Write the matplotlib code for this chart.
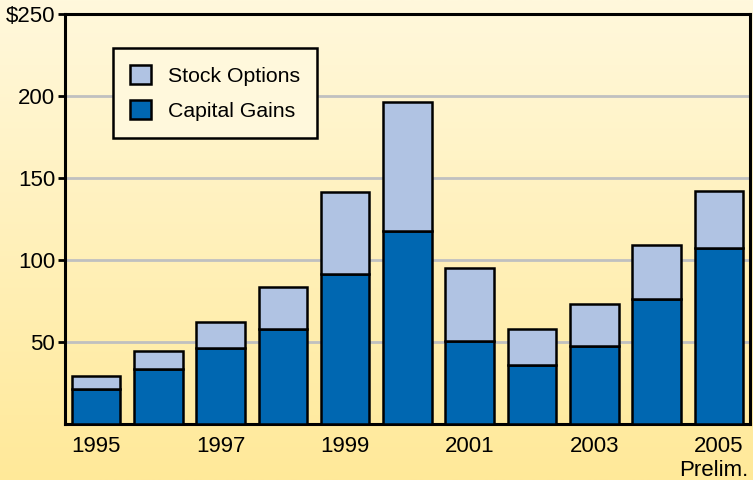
import numpy as np
import matplotlib
matplotlib.use("Agg")
import matplotlib.pyplot as plt
from matplotlib.colors import LinearSegmentedColormap

years = ["1995", "1996", "1997", "1998", "1999", "2000",
         "2001", "2002", "2003", "2004", "2005"]
total = [29.3, 44.5, 62.2, 83.5, 141.5, 196.3, 95.1, 57.9, 73.2, 109.2, 142.1]
capital_gains = [21.3, 33.5, 46.3, 57.9, 91.5, 117.7, 50.6, 36.0, 47.6, 76.2, 107.0]
stock_options = [t - c for t, c in zip(total, capital_gains)]

yticks = [50, 100, 150, 200, 250]
ytick_labels = ["50", "100", "150", "200", "$250"]
xtick_labels = ["1995", "", "1997", "", "1999", "", "2001", "", "2003", "", "2005"]

dark_blue = "#0067b1"
light_blue = "#b0c3e3"

plt.rcParams['font.family'] = ['Liberation Sans', 'DejaVu Sans']

fig = plt.figure(figsize=(7.53, 4.80), dpi=100)

# yellow gradient background
bg = fig.add_axes([0, 0, 1, 1], zorder=-10)
cmap = LinearSegmentedColormap.from_list("bg", ["#fff8dc", "#ffe999"])
grad = np.linspace(0, 1, 256).reshape(-1, 1)
bg.imshow(grad, aspect="auto", cmap=cmap, extent=[0, 1, 0, 1])
bg.axis("off")

ax = fig.add_axes([0.0863, 0.1167, 0.9097, 0.8543])
ax.patch.set_alpha(0)

x = np.arange(len(years))
w = 0.78
ax.bar(x, capital_gains, w, color=dark_blue, edgecolor="black", linewidth=1.8,
       label="Capital Gains", zorder=3)
ax.bar(x, stock_options, w, bottom=capital_gains, color=light_blue,
       edgecolor="black", linewidth=1.8, label="Stock Options", zorder=3)

ax.set_xlim(-0.5, len(years) - 0.5)
ax.set_ylim(0, 250)
ax.set_yticks(yticks)
ax.set_yticklabels(ytick_labels, fontsize=16)
ax.set_xticks(x)
ax.set_xticklabels(xtick_labels, fontsize=16)
ax.tick_params(axis="x", length=0, pad=9)
ax.tick_params(axis="y", length=5, width=2, pad=2)
ax.yaxis.grid(True, color="#c0c0c0", linewidth=2, zorder=0)
ax.set_axisbelow(True)
for s in ax.spines.values():
    s.set_linewidth(2.2)
    s.set_color("black")

fig.text(748 / 753, 1 - 460 / 480, "Prelim.", ha="right", va="top", fontsize=16)

handles, labels = ax.get_legend_handles_labels()
leg = ax.legend(handles[::-1], labels[::-1], loc="upper left",
                bbox_to_anchor=(0.07, 0.917), borderaxespad=0,
                fontsize=15.3, frameon=True, fancybox=False,
                facecolor="#fff8dc", edgecolor="black", framealpha=1,
                handlelength=1.0, handleheight=1.0, borderpad=0.8,
                labelspacing=0.69, handletextpad=0.8)
leg.get_frame().set_linewidth(1.8)

fig.savefig("out.png", dpi=100)
